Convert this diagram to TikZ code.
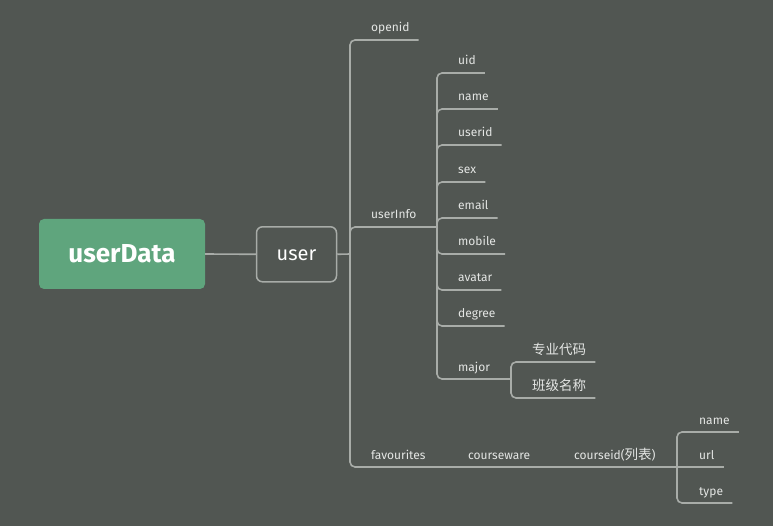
\documentclass[tikz,border=0pt]{standalone}
\usepackage{fontspec}
\setmainfont{Fira Sans}
\newfontfamily\cjk{Noto Sans CJK SC}
\definecolor{bgc}{RGB}{81,86,82}
\definecolor{linec}{RGB}{168,172,168}
\definecolor{txtc}{RGB}{228,230,228}
\definecolor{greenc}{RGB}{95,165,125}
\tikzset{
  conn/.style={draw=linec, line width=1.6pt, rounded corners=5pt},
  lbl/.style={anchor=base west, inner sep=0pt, text=txtc, font=\fontsize{12}{14}\selectfont},
  cjklbl/.style={lbl, font=\fontsize{13.5}{15}\selectfont\cjk},
  rootbox/.style={fill=greenc, rounded corners=5pt, minimum width=166pt, minimum height=70pt, text=white, font=\fontsize{26}{30}\selectfont\bfseries, inner sep=0pt},
  userbox/.style={draw=linec, line width=1.5pt, rounded corners=6pt, minimum width=80pt, minimum height=55pt, text=white, font=\fontsize{20}{24}\selectfont, inner sep=0pt},
}
\newcommand\mmleaf[5]{%
  \node[lbl] (#1) at (#3,#4-8) {#5};
  \path (#1.base east) ++(9,8) coordinate (#1E);
  \draw[conn] (#2) |- (#1E);
}
\newcommand\mmcjkleaf[5]{%
  \node[cjklbl] (#1) at (#3,#4-8) {#5};
  \path (#1.base east) ++(9,8) coordinate (#1E);
  \draw[conn] (#2) |- (#1E);
}
\begin{document}
\begin{tikzpicture}[x=1pt,y=-1pt]
\fill[bgc] (0,0) rectangle (773,526);
\useasboundingbox (0,0) rectangle (773,526);
\node[rootbox] (root) at (122,254) {userData};
\node[userbox, text depth=0pt] (user) at (296.5,254.3) {\raisebox{-1.5pt}{user}};
\draw[conn] (root.east) -- (user.west);
\coordinate (j0) at (350,254);
\draw[conn] (user.east) -- (j0);
% openid
\mmleaf{openid}{j0}{371}{40}{openid}
% userInfo
\node[lbl] (userInfo) at (371,219) {userInfo};
\coordinate (j1) at (437,227);
\draw[conn] (j0) |- (j1);
\mmleaf{uid}{j1}{458}{73}{uid}
\mmleaf{name}{j1}{458}{109}{name}
\mmleaf{userid}{j1}{458}{145}{userid}
\mmleaf{sex}{j1}{458}{182}{sex}
\mmleaf{email}{j1}{458}{218}{email}
\mmleaf{mobile}{j1}{458}{254}{mobile}
\mmleaf{avatar}{j1}{458}{290}{avatar}
\mmleaf{degree}{j1}{458}{326}{degree}
% major
\node[lbl] (major) at (458,371) {major};
\coordinate (j2) at (511,379);
\draw[conn] (j1) |- (j2);
\mmcjkleaf{zydm}{j2}{532}{362}{专业代码}
\mmcjkleaf{bjmc}{j2}{532}{398}{班级名称}
% favourites
\node[lbl] (favourites) at (371,459) {favourites};
\node[lbl] (courseware) at (468,459) {courseware};
\node[lbl] (courseid) at (574,459) {courseid({\cjk\fontsize{13.5}{15}\selectfont 列表})};
\coordinate (j3) at (677,467);
\draw[conn] (j0) |- (j3);
\mmleaf{cname}{j3}{699}{432}{name}
\node[lbl] (url) at (699,459) {url};
\path (url.base east) ++(9,8) coordinate (urlE);
\draw[conn] (j3) -- (urlE);
\mmleaf{ctype}{j3}{699}{503}{type}
\end{tikzpicture}
\end{document}
